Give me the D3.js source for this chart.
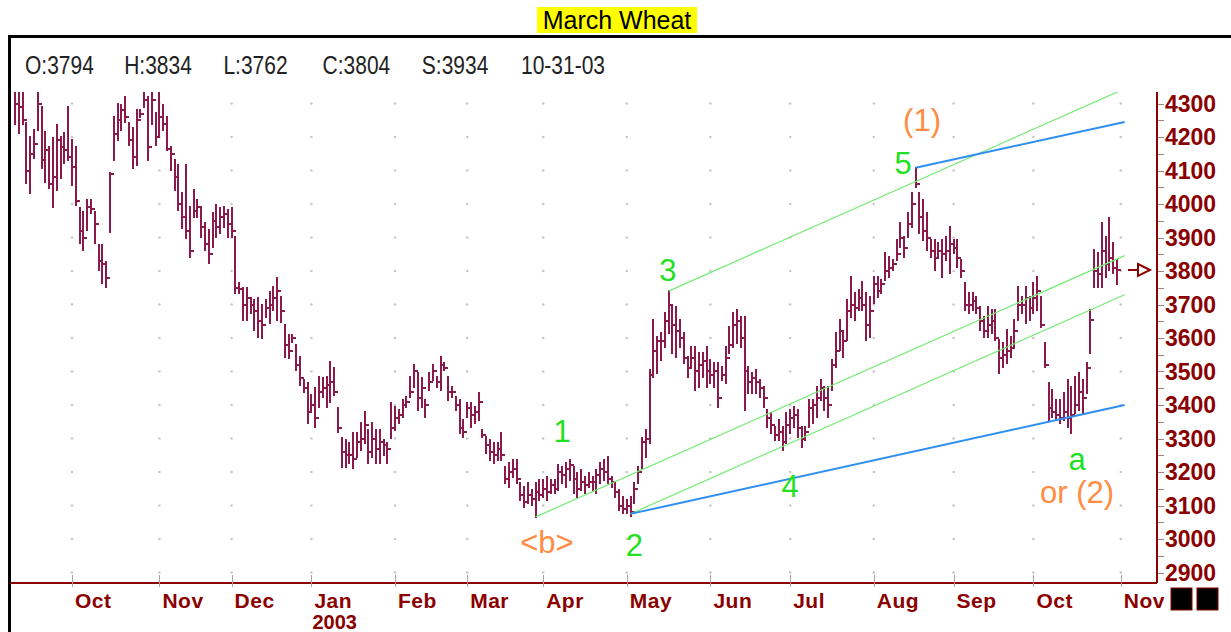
<!DOCTYPE html>
<html lang="en">
<head>
<meta charset="UTF-8">
<title>March Wheat</title>
<script src="https://d3js.org/d3.v7.min.js"></script>
<style>
    body { margin: 0; background: #fff; }
    svg { display: block; }
    text { font-family: "Liberation Sans", Arial, sans-serif; }
</style>
</head>
<body>
<script>
    // daily bars, Sep 2002 .. 31 Oct 2003
    var highs = [
        4330,4330,4330,4242,4200,4221,4330,4290,4215,4170, 4197,4236,4200,4212,4290,4191,4170,3988,3976,4012,
        4012,3976,3878,3878,3827,4092,4260,4300,4296,4320, 4242,4227,4281,4281,4330,4320,4330,4272,4330,4296,
        4260,4170,4131,4116,4033,4116,3991,4042,4012,3991, 3943,3922,3973,3997,3988,3991,3982,3988,3902,3764,
        3749,3749,3719,3713,3719,3699,3713,3737,3752,3779, 3722,3639,3609,3609,3579,3543,3475,3466,3430,3451,
        3484,3481,3484,3528,3510,3391,3302,3296,3287,3316, 3316,3346,3379,3325,3346,3325,3325,3296,3287,3406,
        3394,3385,3415,3424,3484,3519,3495,3481,3415,3495, 3519,3484,3543,3525,3484,3454,3424,3415,3355,3406,
        3406,3394,3436,3325,3305,3296,3287,3287,3316,3215, 3227,3236,3236,3167,3155,3167,3146,3167,3176,3176,
        3185,3176,3176,3221,3215,3227,3236,3215,3197,3206, 3185,3197,3185,3206,3227,3236,3245,3185,3167,3146,
        3125,3116,3125,3167,3215,3302,3325,3504,3654,3603, 3615,3675,3740,3693,3693,3654,3615,3543,3573,3573,
        3555,3555,3573,3534,3525,3525,3514,3573,3633,3675, 3684,3663,3663,3514,3495,3504,3475,3454,3385,3376,
        3334,3355,3334,3376,3385,3394,3385,3334,3334,3415, 3415,3454,3475,3454,3454,3534,3615,3654,3615,3713,
        3782,3734,3743,3767,3734,3722,3782,3782,3773,3854, 3842,3833,3893,3943,3902,3973,4033,4108,4033,4012,
        3973,3893,3893,3884,3893,3902,3931,3893,3893,3833, 3764,3734,3734,3722,3693,3663,3693,3684,3684,3594,
        3585,3624,3603,3654,3752,3722,3752,3722,3764,3782, 3722,3585,3466,3445,3415,3415,3436,3475,3454,3484,
        3495,3475,3525,3684,3863,3854,3943,3902,3958,3884, 3834
    ];
    var lows = [
        4240,4212,4240,4063,4033,4137,4221,4107,4066,4048, 3991,4042,4078,4122,4131,4057,3997,3884,3863,3922,
        3973,3884,3803,3764,3752,3916,4131,4191,4221,4245, 4176,4107,4116,4260,4290,4131,4240,4176,4200,4221,
        4161,4101,4042,3982,3928,3899,3842,3961,3961,3902, 3863,3824,3872,3902,3913,3931,3902,3902,3734,3734,
        3654,3654,3675,3624,3603,3600,3663,3645,3684,3654, 3648,3543,3540,3588,3504,3460,3439,3346,3385,3334,
        3394,3424,3394,3409,3430,3319,3215,3215,3227,3212, 3245,3266,3287,3227,3245,3227,3227,3251,3227,3302,
        3325,3346,3364,3394,3424,3454,3385,3394,3364,3445, 3475,3454,3445,3504,3415,3424,3385,3316,3305,3364,
        3334,3346,3355,3305,3257,3236,3227,3236,3236,3167, 3155,3185,3167,3116,3096,3108,3102,3066,3116,3125,
        3116,3137,3137,3146,3167,3155,3176,3137,3125,3146, 3137,3155,3146,3137,3167,3176,3167,3155,3125,3087,
        3078,3078,3070,3108,3167,3212,3245,3287,3484,3495, 3534,3573,3615,3555,3543,3573,3525,3484,3514,3445,
        3454,3484,3454,3466,3454,3394,3475,3466,3555,3573, 3585,3573,3385,3436,3436,3436,3424,3394,3334,3316,
        3296,3296,3266,3287,3316,3334,3305,3275,3296,3334, 3346,3364,3415,3385,3364,3445,3514,3564,3543,3594,
        3663,3654,3684,3684,3594,3603,3705,3722,3734,3773, 3782,3803,3833,3872,3842,3902,3931,4051,3913,3893,
        3863,3842,3803,3842,3782,3833,3794,3854,3812,3782, 3684,3675,3684,3675,3624,3603,3603,3615,3594,3495,
        3514,3525,3543,3573,3654,3675,3645,3654,3675,3684, 3633,3514,3355,3364,3355,3346,3355,3334,3316,3376,
        3385,3376,3436,3555,3752,3752,3752,3782,3803,3794, 3762
    ];
    var closes = [
        4300,4290,4250,4100,4150,4180,4300,4130,4160,4060, 4080,4190,4170,4160,4140,4110,4010,3920,3900,3990,
        3985,3940,3830,3820,3780,4090,4210,4250,4280,4260, 4190,4140,4250,4270,4310,4170,4310,4200,4260,4240,
        4165,4150,4080,4000,3960,3920,3860,3980,3990,3930, 3880,3850,3950,3930,3960,3970,3940,3920,3750,3745,
        3700,3720,3700,3680,3650,3640,3690,3700,3720,3740, 3680,3580,3560,3600,3520,3480,3450,3380,3400,3360,
        3440,3450,3460,3470,3440,3330,3260,3250,3250,3240, 3290,3300,3340,3260,3300,3270,3290,3280,3270,3330,
        3360,3370,3400,3410,3440,3500,3420,3450,3400,3470, 3500,3470,3520,3510,3440,3440,3400,3330,3320,3390,
        3370,3380,3410,3310,3280,3260,3250,3270,3250,3180, 3200,3210,3180,3130,3110,3130,3120,3140,3130,3150,
        3140,3160,3150,3200,3190,3210,3220,3180,3150,3170, 3160,3170,3170,3190,3210,3200,3180,3170,3140,3100,
        3090,3100,3080,3150,3200,3290,3300,3490,3560,3590, 3590,3650,3700,3640,3620,3600,3540,3510,3540,3500,
        3520,3530,3500,3490,3500,3420,3490,3540,3580,3640, 3650,3600,3500,3470,3480,3470,3450,3420,3360,3340,
        3310,3320,3290,3340,3360,3370,3330,3300,3320,3390, 3400,3420,3450,3420,3400,3520,3560,3620,3590,3680,
        3700,3690,3720,3700,3640,3680,3760,3740,3760,3800, 3810,3820,3850,3900,3870,3940,4000,4060,3960,3920,
        3900,3860,3840,3860,3850,3860,3880,3870,3840,3800, 3700,3700,3710,3690,3650,3620,3640,3650,3600,3540,
        3550,3560,3570,3620,3700,3700,3720,3690,3720,3740, 3640,3520,3390,3380,3370,3360,3380,3360,3370,3400,
        3440,3420,3510,3654,3800,3790,3860,3820,3840,3810, 3804
    ];

    var months = ["Oct", "Nov", "Dec", "Jan", "Feb", "Mar", "Apr", "May", "Jun", "Jul", "Aug", "Sep", "Oct", "Nov"];
    var monthStart = [15, 38, 57, 78, 100, 119, 139, 161, 183, 204, 226, 247, 268, 291];   // bar index of each month
    var yearLabel = {month: 3, text: "2003"};
    var priceTicks = [2900, 3000, 3100, 3200, 3300, 3400, 3500, 3600, 3700, 3800, 3900, 4000, 4100, 4200, 4300];
    var header = ["O:3794", "H:3834", "L:3762", "C:3804", "S:3934", "10-31-03"];

    // trend lines: [start bar, start price, end bar, end price]
    var greenLines = [[172, 3740, 292, 4344], [137, 3066, 292, 3846], [162, 3075, 292, 3729]];
    var blueLines = [[162, 3075, 292, 3400], [237, 4108, 292, 4245]];

    // wave labels: bar index, price (baseline), text, colour group
    var labels = [
        [144, 3290, "1", "g"], [163, 2949, "2", "g"], [171.8, 3770, "3", "g"], [204, 3125, "4", "g"],
        [233.7, 4090, "5", "g"], [279.5, 3206, "a", "g"],
        [238.7, 4218, "(1)", "o"], [140, 2958, "<b>", "o"], [279.5, 3108, "or (2)", "o"]
    ];

    var W = 1231, H = 632;
    var plot = {left: 10, right: 1157, top: 92, bottom: 583};
    var barColor = "#8a1a4c", axisColor = "#8b0000";

    var x = d3.scaleLinear().domain([0, highs.length - 1]).range([15, 1117]);
    var y = d3.scaleLinear().domain([2900, 4300]).range([572.5, 103.5]);

    var svg = d3.select("body").append("svg")
            .attr("width", W)
            .attr("height", H);

    // title
    svg.append("rect").attr("x", 537).attr("y", 7).attr("width", 160).attr("height", 26).attr("fill", "#ffff00");
    svg.append("text").attr("x", 617).attr("y", 29).attr("text-anchor", "middle")
            .attr("font-size", "25px").attr("fill", "#000").text("March Wheat");

    // outer frame
    svg.append("rect").attr("x", 9.5).attr("y", 36.5).attr("width", 1260).attr("height", 700)
            .attr("fill", "none").attr("stroke", "#000").attr("stroke-width", 3);

    // header values (narrow, tall face)
    svg.selectAll("text.hdr")
            .data(header)
            .enter()
            .append("text")
            .attr("class", "hdr")
            .attr("transform", function (d, i) { return "translate(" + (25 + i * 99.2) + ",74) scale(0.84,1)"; })
            .attr("font-size", "25px")
            .attr("fill", "#222")
            .text(function (d) { return d; });

    svg.append("clipPath").attr("id", "clip")
            .append("rect")
            .attr("x", plot.left).attr("y", plot.top)
            .attr("width", plot.right - plot.left).attr("height", plot.bottom - plot.top);

    // grid dots
    var dots = [];
    monthStart.forEach(function (m) {
        priceTicks.forEach(function (p) { dots.push([m, p]); });
    });
    svg.append("g").selectAll("circle")
            .data(dots)
            .enter()
            .append("circle")
            .attr("cx", function (d) { return x(d[0]); })
            .attr("cy", function (d) { return y(d[1]); })
            .attr("r", 1.3)
            .attr("fill", "#c8c8c8");

    var g = svg.append("g").attr("clip-path", "url(#clip)");

    // bars
    var idx = d3.range(highs.length);
    g.selectAll("line.bar")
            .data(idx)
            .enter()
            .append("line")
            .attr("class", "bar")
            .attr("x1", function (i) { return Math.round(x(i)); })
            .attr("x2", function (i) { return Math.round(x(i)); })
            .attr("y1", function (i) { return Math.round(y(highs[i])) - 1; })
            .attr("y2", function (i) { return Math.round(y(lows[i])) + 1; })
            .attr("stroke", barColor)
            .attr("stroke-width", 2);

    g.selectAll("line.cls")
            .data(idx)
            .enter()
            .append("line")
            .attr("class", "cls")
            .attr("x1", function (i) { return Math.round(x(i)); })
            .attr("x2", function (i) { return Math.round(x(i)) + 4; })
            .attr("y1", function (i) { return Math.round(y(closes[i])); })
            .attr("y2", function (i) { return Math.round(y(closes[i])); })
            .attr("stroke", barColor)
            .attr("stroke-width", 2);

    // trend lines
    g.selectAll("line.green")
            .data(greenLines)
            .enter()
            .append("line")
            .attr("x1", function (d) { return x(d[0]); })
            .attr("y1", function (d) { return y(d[1]); })
            .attr("x2", function (d) { return x(d[2]); })
            .attr("y2", function (d) { return y(d[3]); })
            .attr("stroke", "#72ec72")
            .attr("stroke-width", 1.2);

    g.selectAll("line.blue")
            .data(blueLines)
            .enter()
            .append("line")
            .attr("x1", function (d) { return x(d[0]); })
            .attr("y1", function (d) { return y(d[1]); })
            .attr("x2", function (d) { return x(d[2]); })
            .attr("y2", function (d) { return y(d[3]); })
            .attr("stroke", "#2f8ff0")
            .attr("stroke-width", 2);

    // wave labels
    svg.selectAll("text.wave")
            .data(labels)
            .enter()
            .append("text")
            .attr("x", function (d) { return x(d[0]); })
            .attr("y", function (d) { return y(d[1]); })
            .attr("text-anchor", "middle")
            .attr("font-size", "31px")
            .attr("fill", function (d) { return d[3] === "g" ? "#22e022" : "#ff8c42"; })
            .text(function (d) { return d[2]; });

    // axes frame
    svg.append("line").attr("x1", plot.left).attr("x2", plot.right)
            .attr("y1", plot.bottom).attr("y2", plot.bottom)
            .attr("stroke", axisColor).attr("stroke-width", 2);
    svg.append("line").attr("x1", plot.right).attr("x2", plot.right)
            .attr("y1", plot.top).attr("y2", plot.bottom)
            .attr("stroke", axisColor).attr("stroke-width", 2);

    // right price axis
    var minor = d3.range(2900, 4301, 50);
    svg.selectAll("line.ytick")
            .data(minor)
            .enter()
            .append("line")
            .attr("x1", plot.right + 1)
            .attr("x2", plot.right + 7)
            .attr("y1", function (d) { return Math.round(y(d)) + 0.5; })
            .attr("y2", function (d) { return Math.round(y(d)) + 0.5; })
            .attr("stroke", "#a08080");

    svg.selectAll("text.ylab")
            .data(priceTicks)
            .enter()
            .append("text")
            .attr("x", plot.right + 8)
            .attr("y", function (d) { return y(d) + 8; })
            .attr("font-size", "23px")
            .attr("font-weight", "bold")
            .attr("fill", axisColor)
            .text(function (d) { return d; });

    // last close marker
    var lastY = Math.round(y(closes[closes.length - 1]));
    svg.append("line").attr("x1", 1128).attr("x2", 1138).attr("y1", lastY).attr("y2", lastY)
            .attr("stroke", axisColor).attr("stroke-width", 2);
    svg.append("path")
            .attr("d", "M1138," + (lastY - 6) + "L1150," + lastY + "L1138," + (lastY + 6) + "Z")
            .attr("fill", "#fff").attr("stroke", axisColor).attr("stroke-width", 2);

    // month axis
    svg.selectAll("line.xtick")
            .data(monthStart)
            .enter()
            .append("line")
            .attr("x1", function (d) { return Math.round(x(d)) + 0.5; })
            .attr("x2", function (d) { return Math.round(x(d)) + 0.5; })
            .attr("y1", plot.bottom - 8)
            .attr("y2", plot.bottom + 4)
            .attr("stroke", "#b0a0a0");

    svg.selectAll("text.xlab")
            .data(months)
            .enter()
            .append("text")
            .attr("x", function (d, i) { return x(monthStart[i]) + 3; })
            .attr("y", 608)
            .attr("font-size", "21px")
            .attr("font-weight", "bold")
            .attr("letter-spacing", "0.5px")
            .attr("fill", axisColor)
            .text(function (d) { return d; });

    svg.append("text")
            .attr("x", x(monthStart[yearLabel.month]) + 1)
            .attr("y", 629)
            .attr("font-size", "20px")
            .attr("font-weight", "bold")
            .attr("fill", axisColor)
            .text(yearLabel.text);

    // the two black boxes at the corner
    svg.selectAll("rect.box")
            .data([0, 1])
            .enter()
            .append("rect")
            .attr("x", function (d) { return 1171 + d * 26; })
            .attr("y", 588)
            .attr("width", 21)
            .attr("height", 22)
            .attr("fill", "#000")
            .attr("stroke", axisColor);
</script>
</body>
</html>
